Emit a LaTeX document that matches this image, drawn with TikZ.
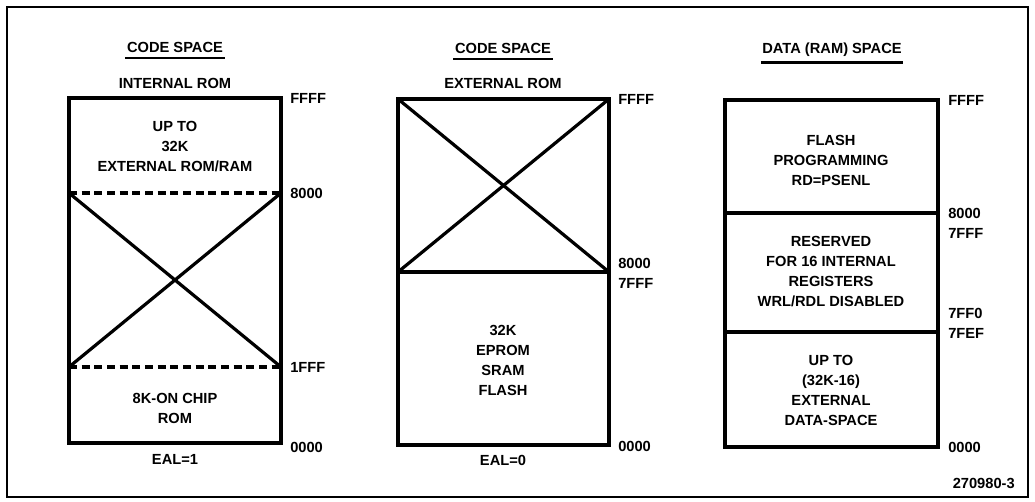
\documentclass[tikz,border=0pt]{standalone}
\usepackage{fontspec}
\setmainfont{Liberation Sans}
\usetikzlibrary{positioning}

\begin{document}
\begin{tikzpicture}[x=0.75pt, y=-0.75pt,
  font=\fontsize{11}{15}\selectfont\bfseries,
  frame/.style={draw=black, line width=1.4pt},
  mapbox/.style={draw=black, line width=3.6pt, line join=miter},
  xline/.style={draw=black, line width=2.4pt},
  split/.style={draw=black, line width=2.6pt},
  dashsplit/.style={draw=black, line width=2.8pt, dash pattern=on 6pt off 3.5pt},
  title/.style={inner sep=1pt},
  uline/.style={draw=black, line width=1.8pt},
  label/.style={align=center, inner sep=0pt},
  addr/.style={anchor=west, inner sep=0pt}
]
  \useasboundingbox (0,0) rectangle (1035,502);
  \draw[frame] (7,7) rectangle (1028,497);

  % internal rom map
  \node[title] (t1) at (175,47) {CODE SPACE};
  \draw[uline] ([yshift=-3pt]t1.south west) -- ([yshift=-3pt]t1.south east);
  \node[label] (h1) at (175,83) {INTERNAL ROM};
  \draw[xline] (69,193) -- (281,367);
  \draw[xline] (281,193) -- (69,367);
  \draw[dashsplit] (69,193) -- (281,193);
  \draw[dashsplit] (69,367) -- (281,367);
  \draw[mapbox] (69,98) rectangle (281,443);
  \node[label] (b1a) at (175,147) {UP TO\\32K\\EXTERNAL ROM/RAM};
  \node[label] (b1b) at (175,408) {8K-ON CHIP\\ROM};
  \node[label] (e1) at (175,459) {EAL=1};
  \node[addr] (a1) at (290,98) {FFFF};
  \node[addr] (a2) at (290,193) {8000};
  \node[addr] (a3) at (290,367) {1FFF};
  \node[addr] (a4) at (290,447) {0000};

  % external rom map
  \node[title] (t2) at (503,48) {CODE SPACE};
  \draw[uline] ([yshift=-3pt]t2.south west) -- ([yshift=-3pt]t2.south east);
  \node[label] (h2) at (503,83) {EXTERNAL ROM};
  \draw[xline] (398,99) -- (609,272);
  \draw[xline] (609,99) -- (398,272);
  \draw[split] (398,272) -- (609,272);
  \draw[mapbox] (398,99) rectangle (609,445);
  \node[label] (b2) at (503,360) {32K\\EPROM\\SRAM\\FLASH};
  \node[label] (e2) at (503,460) {EAL=0};
  \node[addr] (c1) at (618,99) {FFFF};
  \node[addr] (c2) at (618,263) {8000};
  \node[addr] (c3) at (618,283) {7FFF};
  \node[addr] (c4) at (618,446) {0000};

  % data space map
  \node[title] (t3) at (832,50) {DATA (RAM) SPACE};
  \draw[uline] ([yshift=-3pt]t3.south west) -- ([yshift=-3pt]t3.south east);
  \draw[split] (725,213) -- (938,213);
  \draw[split] (725,332) -- (938,332);
  \draw[mapbox] (725,100) rectangle (938,447);
  \node[label] (d1) at (831,160) {FLASH\\PROGRAMMING\\RD=PSENL};
  \node[label] (d2) at (831,272) {RESERVED\\FOR 16 INTERNAL\\REGISTERS\\WRL/RDL DISABLED};
  \node[label] (d3) at (831,390) {UP TO\\(32K-16)\\EXTERNAL\\DATA-SPACE};
  \node[addr] (g1) at (948,100) {FFFF};
  \node[addr] (g2) at (948,213) {8000};
  \node[addr] (g3) at (948,233) {7FFF};
  \node[addr] (g4) at (948,313) {7FF0};
  \node[addr] (g5) at (948,333) {7FEF};
  \node[addr] (g6) at (948,447) {0000};

  \node[anchor=east, inner sep=0pt] (fig) at (1015,483) {270980-3};
\end{tikzpicture}
\end{document}
